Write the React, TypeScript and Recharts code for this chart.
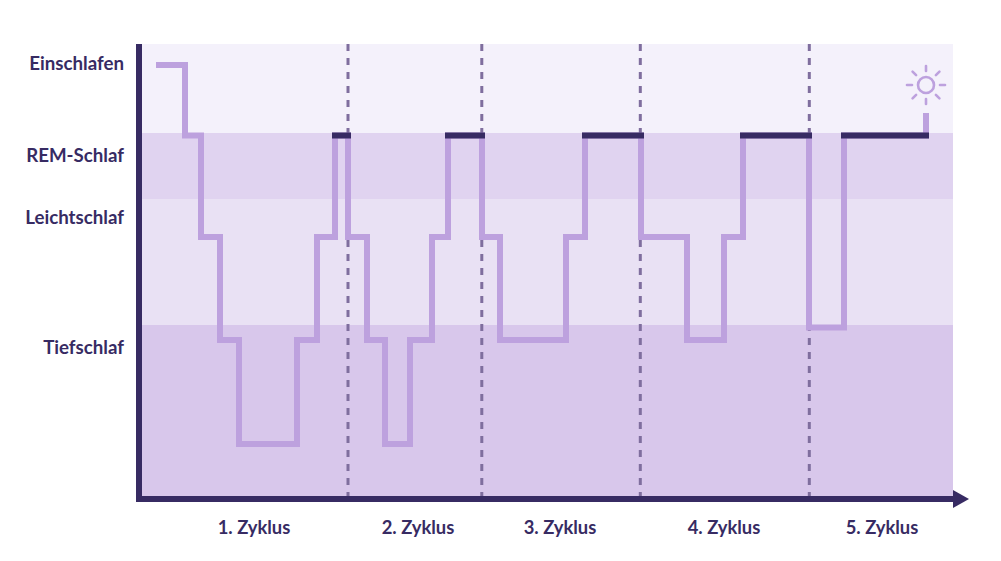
import React from 'react';
import { ComposedChart, Line, XAxis, YAxis, ReferenceArea, ReferenceLine, ReferenceDot } from 'recharts';

const DARK = '#372B63';
const LIGHT = '#BDA1DE';

// x = time along the night, y = sleep depth (0 at the top of the plot)
const X_MAX = 814;
const Y_MAX = 455;

const bandFrom = [0, 89, 155, 281];
const bandTo = [89, 155, 281, 455];
const bandColors = ['#F4F1FB', '#E0D3F0', '#E9E1F4', '#D8C7EB'];

const stageTicks = [19, 111, 173, 303];
const stageLabels = ['Einschlafen', 'REM-Schlaf', 'Leichtschlaf', 'Tiefschlaf'];

const cycleTicks = [115, 279, 421, 585, 743];
const cycleLabels = ['1. Zyklus', '2. Zyklus', '3. Zyklus', '4. Zyklus', '5. Zyklus'];
const cycleEnds = [209, 342.8, 501.3, 670.3];

const stepTimes = [17, 46, 62, 81, 100, 158, 178, 196, 209, 228, 246, 271, 293, 309, 343, 361, 427, 446, 502, 548, 585, 604, 670, 705, 787];
const stepDepths = [21, 91.5, 193, 296, 400, 296, 193, 91.5, 193, 296, 400, 296, 193, 91.5, 193, 296, 193, 91.5, 193, 296, 193, 91.5, 283.5, 91.5, 69];
const hypnogram = stepTimes.map((t, i) => ({ t, depth: stepDepths[i] }));

const remDepth = 91.5;
const remStarts = [193, 306, 443, 601, 702];
const remEnds = [212, 346, 505, 673, 790];

const sunTime = 787;
const sunDepth = 41;

const Sun = ({ cx, cy }: any) => {
  const rays = [0, 45, 90, 135, 180, 225, 270, 315];
  return (
    <g stroke={LIGHT} strokeWidth={2.6} fill="none">
      <circle cx={cx} cy={cy} r={8} />
      {rays.map(a => (
        <line
          key={a}
          x1={cx + 14 * Math.cos((a * Math.PI) / 180)}
          y1={cy + 14 * Math.sin((a * Math.PI) / 180)}
          x2={cx + 19 * Math.cos((a * Math.PI) / 180)}
          y2={cy + 19 * Math.sin((a * Math.PI) / 180)}
          strokeLinecap="round"
        />
      ))}
    </g>
  );
};

const Arrow = ({ cx, cy }: any) => (
  <path d={`M${cx} ${cy - 9}L${cx + 16} ${cy}L${cx} ${cy + 9}Z`} fill={DARK} />
);

const App: React.FC = () => (
  <div style={{ position: 'absolute', left: 0, top: 0, width: 1001, height: 561 }}>
    <ComposedChart
      width={1001}
      height={561}
      data={hypnogram}
      margin={{ top: 44, right: 48, bottom: 0, left: 0 }}
    >
      {bandColors.map((c, i) => (
        <ReferenceArea key={c} y1={bandFrom[i]} y2={bandTo[i]} fill={c} fillOpacity={1} stroke="none" />
      ))}
      {cycleEnds.map(x => (
        <ReferenceLine key={x} x={x} stroke="#7F6E9E" strokeWidth={3} strokeDasharray="7 7" />
      ))}
      <XAxis
        type="number"
        dataKey="t"
        domain={[0, X_MAX]}
        ticks={cycleTicks}
        tickFormatter={(v: number) => cycleLabels[cycleTicks.indexOf(v)]}
        interval={0}
        height={62}
        tickLine={false}
        tickMargin={16}
        axisLine={{ stroke: DARK, strokeWidth: 6, strokeLinecap: 'square' }}
        tick={{ fill: DARK, fontSize: 18.4, fontWeight: 700, fontFamily: 'Lato' }}
      />
      <YAxis
        type="number"
        reversed
        domain={[0, Y_MAX]}
        ticks={stageTicks}
        tickFormatter={(v: number) => stageLabels[stageTicks.indexOf(v)]}
        interval={0}
        width={139}
        tickLine={false}
        tickMargin={9}
        axisLine={{ stroke: DARK, strokeWidth: 6 }}
        tick={{ fill: DARK, fontSize: 18.7, fontWeight: 700, fontFamily: 'Lato' }}
      />
      <Line
        dataKey="depth"
        type="stepAfter"
        stroke={LIGHT}
        strokeWidth={6}
        strokeLinejoin="miter"
        dot={false}
        activeDot={false}
        isAnimationActive={false}
      />
      {remStarts.map((from, i) => (
        <Line
          key={from}
          data={[{ t: from, depth: remDepth }, { t: remEnds[i], depth: remDepth }]}
          dataKey="depth"
          stroke={DARK}
          strokeWidth={6}
          dot={false}
          activeDot={false}
          isAnimationActive={false}
        />
      ))}
      <ReferenceDot x={sunTime} y={sunDepth} shape={Sun} />
      <ReferenceDot x={X_MAX} y={Y_MAX} shape={Arrow} />
    </ComposedChart>
  </div>
);

export default App;
